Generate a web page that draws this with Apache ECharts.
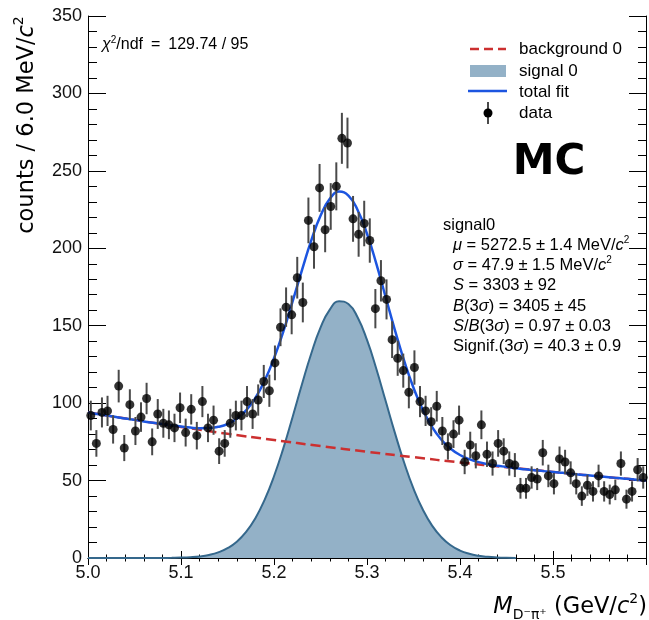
<!DOCTYPE html>
<html>
<head>
<meta charset="utf-8">
<script src="https://cdn.jsdelivr.net/npm/echarts@6/dist/echarts.min.js"></script>
<style>
html,body{margin:0;padding:0;background:#fff;}
#chart{width:649px;height:620px;}
</style>
</head>
<body>
<div id="chart"></div>
<script>
// Histogram binning (100 bins of 6 MeV from 5.0 to 5.6 GeV)
const binLow = 5.0;
const binWidth = 0.006;
// Counts per bin
const counts = [
  92, 74, 94, 95, 83, 111, 71, 99, 82, 91,
  103, 75, 93, 87, 86, 84, 97, 81, 96, 79,
  101, 84, 89, 69, 74, 87, 92, 92, 101, 93,
  102, 114, 108, 126, 149, 162, 157, 181, 165, 218,
  201, 239, 212, 227, 240, 271, 268, 219, 209, 216,
  205, 161, 179, 167, 141, 129, 121, 107, 123, 101,
  95, 88, 98, 82, 72, 80, 89, 62, 73, 66,
  86, 67, 61, 74, 69, 61, 60, 45, 45, 52,
  51, 68, 53, 48, 64, 62, 55, 48, 40, 47,
  43, 53, 43, 41, 44, 61, 38, 43, 57, 52
];
const fitX = [
  5.00,5.01,5.02,5.03,5.04,5.05,5.06,5.07,5.08,5.09,
  5.10,5.11,5.12,5.13,5.14,5.15,5.16,5.17,5.18,5.19,
  5.20,5.21,5.22,5.23,5.24,5.25,5.26,5.27,5.28,5.29,
  5.30,5.31,5.32,5.33,5.34,5.35,5.36,5.37,5.38,5.39,
  5.40,5.41,5.42,5.43,5.44,5.45,5.46,5.47,5.48,5.49,
  5.50,5.51,5.52,5.53,5.54,5.55,5.56,5.57,5.58,5.59,5.60
];
const totalFit = [
  94.0,93.0,92.0,91.1,90.1,89.2,88.2,87.3,86.5,85.6,
  84.9,84.2,83.8,83.9,84.7,86.5,89.9,95.3,103.4,114.6,
  129.0,146.2,165.7,185.8,204.9,221.0,231.9,236.6,234.0,224.6,
  209.4,190.1,168.6,147.2,127.3,109.9,95.7,84.6,76.4,70.6,
  66.5,63.8,61.9,60.6,59.6,58.8,57.9,57.3,56.7,56.1,
  55.6,55.0,54.4,53.8,53.3,52.7,52.2,51.6,51.1,50.5,50.0
];
const signalFit = [
  0,0,0,0,0,0,0.01,0.02,0.05,0.12,
  0.25,0.53,1.04,1.99,3.62,6.31,10.5,16.8,25.7,37.7,
  52.8,70.8,91.1,112.0,131.9,148.7,160.4,165.8,164.0,155.3,
  140.8,122.2,101.5,80.8,61.5,44.8,31.3,20.9,13.4,8.2,
  4.8,2.7,1.45,0.75,0.37,0.17,0.07,null,null,null,
  null,null,null,null,null,null,null,null,null,null,null
];
const bgX = [5.00,5.05,5.10,5.15,5.20,5.25,5.30,5.35,5.40,5.45,5.50,5.55,5.60];
const bgFit = [94.0,89.2,84.6,80.2,76.2,72.3,68.6,65.1,61.7,58.6,55.6,52.7,50.0];
// Tick settings
const xMin = 5.0, xMax = 5.6, xStep = 0.1;
const yMin = 0, yMax = 350, yStep = 50;

const fitText = '{i|χ}{sup|2}/ndf\u2002=\u2002129.74 / 95';
const legendNames = ['background 0', 'signal 0', 'total fit', 'data'];
const statLines = [
  'signal0',
  '{i|μ} = 5272.5 ± 1.4 MeV/{i|c}{sup|2}',
  '{i|σ} = 47.9 ± 1.5 MeV/{i|c}{sup|2}',
  '{i|S} = 3303 ± 92',
  '{i|B}(3{i|σ}) = 3405 ± 45',
  '{i|S}/{i|B}(3{i|σ}) = 0.97 ± 0.03',
  'Signif.(3{i|σ}) = 40.3 ± 0.9'
];

const COL_BG = '#cc3030';
const COL_SIG_FILL = '#93b1c7';
const COL_SIG_LINE = '#35688c';
const COL_TOT = '#1c55e0';
const SANS = 'Liberation Sans';
const DJ = 'DejaVu Sans';

function richSet(fs, ff) {
  return {
    i: {fontSize: fs, fontFamily: ff, fontStyle: 'italic', fill: '#000'},
    sup: {fontSize: Math.round(fs * 0.62), fontFamily: ff, verticalAlign: 'top', lineHeight: Math.round(fs * 0.75), fill: '#000'},
    sub: {fontSize: Math.round(fs * 0.6), fontFamily: ff, verticalAlign: 'bottom', lineHeight: Math.round(fs * 0.7), fill: '#000'}
  };
}

const points = counts.map((c, i) => [binLow + (i + 0.5) * binWidth, c]);
const errs = counts.map((c, i) => [binLow + (i + 0.5) * binWidth, c, Math.sqrt(c)]);
const totalData = fitX.map((x, i) => [x, totalFit[i]]);
const signalData = fitX.map((x, i) => [x, signalFit[i]]).filter(d => d[1] !== null);
const bgData = bgX.map((x, i) => [x, bgFit[i]]);

const chart = echarts.init(document.getElementById('chart'), null, {renderer: 'canvas'});

const axisLineStyle = {color: '#000', width: 1};
const option = {
  animation: false,
  backgroundColor: '#fff',
  grid: {left: 88, top: 16, width: 560, height: 542, containLabel: false},
  xAxis: [
    {
      type: 'value', min: xMin, max: xMax, interval: xStep, position: 'bottom',
      axisLine: {show: true, lineStyle: axisLineStyle},
      axisTick: {show: true, inside: true, length: 7, lineStyle: axisLineStyle},
      minorTick: {show: true, splitNumber: 5, length: 3.5, lineStyle: axisLineStyle},
      splitLine: {show: false},
      axisLabel: {
        show: true, margin: 6, fontSize: 18, fontFamily: SANS, color: '#111',
        formatter: v => (v > 5.55 ? '' : v.toFixed(1))
      }
    },
    {
      type: 'value', min: xMin, max: xMax, interval: xStep, position: 'top',
      axisLine: {show: true, lineStyle: axisLineStyle},
      axisTick: {show: true, inside: true, length: 7, lineStyle: axisLineStyle},
      minorTick: {show: true, splitNumber: 5, length: 3.5, lineStyle: axisLineStyle},
      splitLine: {show: false},
      axisLabel: {show: false}
    }
  ],
  yAxis: [
    {
      type: 'value', min: yMin, max: yMax, interval: yStep, position: 'left',
      axisLine: {show: true, lineStyle: axisLineStyle},
      axisTick: {show: true, inside: true, length: 18, lineStyle: axisLineStyle},
      minorTick: {show: true, splitNumber: 5, length: 9, lineStyle: axisLineStyle},
      splitLine: {show: false},
      axisLabel: {show: true, margin: 6, fontSize: 18, fontFamily: SANS, color: '#111'}
    },
    {
      type: 'value', min: yMin, max: yMax, interval: yStep, position: 'right',
      axisLine: {show: true, lineStyle: axisLineStyle},
      axisTick: {show: true, inside: true, length: 17, lineStyle: axisLineStyle},
      minorTick: {show: true, splitNumber: 5, length: 8, lineStyle: axisLineStyle},
      splitLine: {show: false},
      axisLabel: {show: false}
    }
  ],
  series: [
    {
      name: legendNames[1], type: 'line', data: signalData, smooth: true, showSymbol: false, z: 1,
      lineStyle: {color: COL_SIG_LINE, width: 2},
      areaStyle: {color: COL_SIG_FILL, opacity: 1, origin: 0},
      itemStyle: {color: COL_SIG_FILL}
    },
    {
      name: legendNames[0], type: 'line', data: bgData, smooth: true, showSymbol: false, z: 2,
      lineStyle: {color: COL_BG, width: 2.5, type: [10, 5]},
      itemStyle: {color: COL_BG}
    },
    {
      name: legendNames[2], type: 'line', data: totalData, smooth: true, showSymbol: false, z: 3,
      lineStyle: {color: COL_TOT, width: 2.5},
      itemStyle: {color: COL_TOT}
    },
    {
      name: 'data errors', type: 'custom', data: errs, z: 4,
      renderItem: function (params, api) {
        const x = api.value(0), y = api.value(1), e = api.value(2);
        const p1 = api.coord([x, y - e]);
        const p2 = api.coord([x, y + e]);
        return {
          type: 'line',
          shape: {x1: p1[0], y1: p1[1], x2: p2[0], y2: p2[1]},
          style: {stroke: '#4a4a4a', lineWidth: 2}
        };
      }
    },
    {
      name: legendNames[3], type: 'scatter', data: points, z: 5,
      symbol: 'circle', symbolSize: 9,
      itemStyle: {color: '#000'}
    }
  ],
  graphic: [
    // Y axis title
    {
      type: 'text', x: 27, y: 125, rotation: Math.PI / 2, z: 10,
      style: {
        text: 'counts / 6.0 MeV/{i|c}{sup|2}', fontSize: 22.5, fontFamily: DJ, fill: '#000',
        align: 'center', verticalAlign: 'middle', lineHeight: 30,
        rich: richSet(22.5, DJ)
      }
    },
    // X axis title
    {
      type: 'text', x: 647, y: 607, z: 10,
      style: {
        text: '{i|M}{sub|D⁻π⁺} (GeV/{i|c}{sup|2})', fontSize: 22.5, fontFamily: DJ, fill: '#000',
        align: 'right', verticalAlign: 'middle', lineHeight: 30,
        rich: richSet(22.5, DJ)
      }
    },
    // chi2 text
    {
      type: 'text', x: 102, y: 45, z: 10,
      style: {text: fitText, fontSize: 16, fontFamily: SANS, fill: '#000', align: 'left', verticalAlign: 'middle', lineHeight: 20,
        rich: richSet(16, SANS)}
    },
    // MC label
    {
      type: 'text', x: 549, y: 163, z: 10,
      style: {text: 'MC', fontSize: 42, fontWeight: 'bold', fontFamily: DJ, fill: '#000', align: 'center', verticalAlign: 'middle'}
    },
    // Legend
    {type: 'line', shape: {x1: 470, y1: 49, x2: 506, y2: 49}, z: 10,
      style: {stroke: COL_BG, lineWidth: 2.5, lineDash: [9, 5]}},
    {type: 'rect', shape: {x: 470, y: 65, width: 36, height: 12}, z: 10,
      style: {fill: COL_SIG_FILL}},
    {type: 'line', shape: {x1: 468, y1: 91, x2: 507, y2: 91}, z: 10,
      style: {stroke: COL_TOT, lineWidth: 2.5}},
    {type: 'line', shape: {x1: 488, y1: 102, x2: 488, y2: 124}, z: 10,
      style: {stroke: '#4a4a4a', lineWidth: 2}},
    {type: 'circle', shape: {cx: 488, cy: 113, r: 4.5}, z: 11,
      style: {fill: '#000'}},
    {type: 'text', x: 519, y: 49, z: 10, style: {text: legendNames[0], fontSize: 17, fontFamily: SANS, fill: '#000', verticalAlign: 'middle'}},
    {type: 'text', x: 519, y: 71, z: 10, style: {text: legendNames[1], fontSize: 17, fontFamily: SANS, fill: '#000', verticalAlign: 'middle'}},
    {type: 'text', x: 519, y: 92, z: 10, style: {text: legendNames[2], fontSize: 17, fontFamily: SANS, fill: '#000', verticalAlign: 'middle'}},
    {type: 'text', x: 519, y: 113, z: 10, style: {text: legendNames[3], fontSize: 17, fontFamily: SANS, fill: '#000', verticalAlign: 'middle'}}
  ].concat(statLines.map((t, k) => ({
    type: 'text', x: k === 0 ? 443 : 453, y: 225 + k * 20.3, z: 10,
    style: {
      text: t, fontSize: 16.5, fontFamily: SANS, fill: '#000', align: 'left', verticalAlign: 'middle', lineHeight: 20,
      rich: richSet(16.5, SANS)
    }
  })))
};
chart.setOption(option);
</script>
</body>
</html>
